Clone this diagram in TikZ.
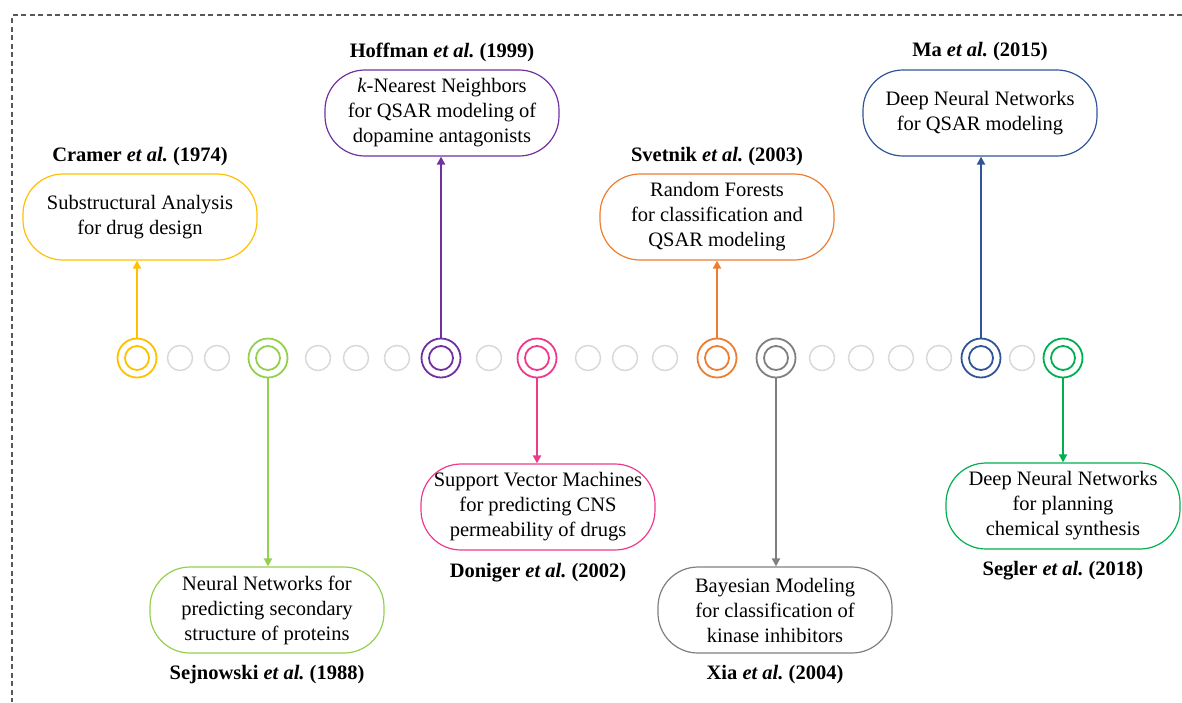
\documentclass[tikz,border=0pt]{standalone}
\usepackage{fontspec}
\setmainfont{Liberation Serif}
\usetikzlibrary{arrows.meta}
\definecolor{cyel}{HTML}{FFC000}
\definecolor{clgr}{HTML}{92D050}
\definecolor{cpur}{HTML}{7030A0}
\definecolor{cpnk}{HTML}{EE3A8C}
\definecolor{cora}{HTML}{ED7D31}
\definecolor{cgry}{HTML}{7F7F7F}
\definecolor{cblu}{HTML}{2F5597}
\definecolor{cgrn}{HTML}{00B050}
\definecolor{clt}{HTML}{D9D9D9}
\definecolor{cbord}{HTML}{595959}
\tikzset{
  tbox/.style={draw, rounded corners=40pt, minimum width=234pt, minimum height=86pt,
    align=center, line width=1.2pt, inner sep=0pt,
    font=\fontsize{20.5}{25}\selectfont},
  ttl/.style={font=\bfseries\fontsize{20.5}{22}\selectfont, inner sep=0pt},
  ring/.style={circle, draw, line width=1.8pt, minimum size=39pt, inner sep=0pt},
  dotc/.style={circle, draw=clt, line width=1.5pt, minimum size=25pt, inner sep=0pt},
  conn/.style={line width=2.6pt, -{Triangle[length=8pt,width=8pt]}},
  frame/.style={draw=cbord, line width=1.1pt, dash pattern=on 5pt off 3.5pt}
}
\begin{document}
\frenchspacing
\begin{tikzpicture}[x=1pt,y=-1pt]
\useasboundingbox (0,0) rectangle (1182,702);
% frame
\coordinate (fa) at (1182,15);
\coordinate (fb) at (12,15);
\coordinate (fc) at (12,702);
\draw[frame] (fa) -- (fb) -- (fc);

% grey dots
\foreach \i/\x in {1/180,2/217,3/318,4/356,5/397,6/489,7/588,8/625,9/665,10/822,11/861,12/901,13/939,14/1022}
  \node[dotc] (g\i) at (\x,358) {};

% main rings
\node[ring, draw=cyel] (c1) at (137,358) {};
\node[ring, draw=clgr] (c2) at (268,358) {};
\node[ring, draw=cpur] (c3) at (441,358) {};
\node[ring, draw=cpnk] (c4) at (537,358) {};
\node[ring, draw=cora] (c5) at (717,358) {};
\node[ring, draw=cgry] (c6) at (776,358) {};
\node[ring, draw=cblu] (c7) at (981,358) {};
\node[ring, draw=cgrn] (c8) at (1063,358) {};
\draw[cyel, line width=1.8pt] (c1.center) circle (12pt);
\draw[clgr, line width=1.8pt] (c2.center) circle (12pt);
\draw[cpur, line width=1.8pt] (c3.center) circle (12pt);
\draw[cpnk, line width=1.8pt] (c4.center) circle (12pt);
\draw[cora, line width=1.8pt] (c5.center) circle (12pt);
\draw[cgry, line width=1.8pt] (c6.center) circle (12pt);
\draw[cblu, line width=1.8pt] (c7.center) circle (12pt);
\draw[cgrn, line width=1.8pt] (c8.center) circle (12pt);

% boxes
\node[tbox, draw=cyel] (b1) at (140,217) {Substructural Analysis\\for drug design};
\node[tbox, draw=clgr] (b2) at (267,610) {Neural Networks for\\predicting secondary\\structure of proteins};
\node[tbox, draw=cpur] (b3) at (442,113) {\textit{k}-Nearest Neighbors\\for QSAR modeling of\\dopamine antagonists};
\node[tbox, draw=cpnk] (b4) at (538,507) {Support Vector Machines\\for predicting CNS\\permeability of drugs};
\node[tbox, draw=cora] (b5) at (717,217) {Random Forests\\for classification and\\QSAR modeling};
\node[tbox, draw=cgry] (b6) at (775,610) {Bayesian Modeling\\for classification of\\kinase inhibitors};
\node[tbox, draw=cblu] (b7) at (980,113) {Deep Neural Networks\\for QSAR modeling};
\node[tbox, draw=cgrn] (b8) at (1063,506) {Deep Neural Networks\\for planning\\chemical synthesis};

% titles
\node[ttl] (t1) at (140,157) {Cramer \textit{et al.} (1974)};
\node[ttl] (t2) at (267,675) {Sejnowski \textit{et al.} (1988)};
\node[ttl] (t3) at (442,52) {Hoffman \textit{et al.} (1999)};
\node[ttl] (t4) at (538,573) {Doniger \textit{et al.} (2002)};
\node[ttl] (t5) at (717,157) {Svetnik \textit{et al.} (2003)};
\node[ttl] (t6) at (775,675) {Xia \textit{et al.} (2004)};
\node[ttl] (t7) at (980,52) {Ma \textit{et al.} (2015)};
\node[ttl] (t8) at (1063,571) {Segler \textit{et al.} (2018)};

% connectors
\draw[conn, cyel] (c1.north) -- (c1.north |- b1.south);
\draw[conn, clgr] (c2.south) -- (c2.south |- b2.north);
\draw[conn, cpur] (c3.north) -- (c3.north |- b3.south);
\draw[conn, cpnk] (c4.south) -- (c4.south |- b4.north);
\draw[conn, cora] (c5.north) -- (c5.north |- b5.south);
\draw[conn, cgry] (c6.south) -- (c6.south |- b6.north);
\draw[conn, cblu] (c7.north) -- (c7.north |- b7.south);
\draw[conn, cgrn] (c8.south) -- (c8.south |- b8.north);
\end{tikzpicture}
\end{document}
